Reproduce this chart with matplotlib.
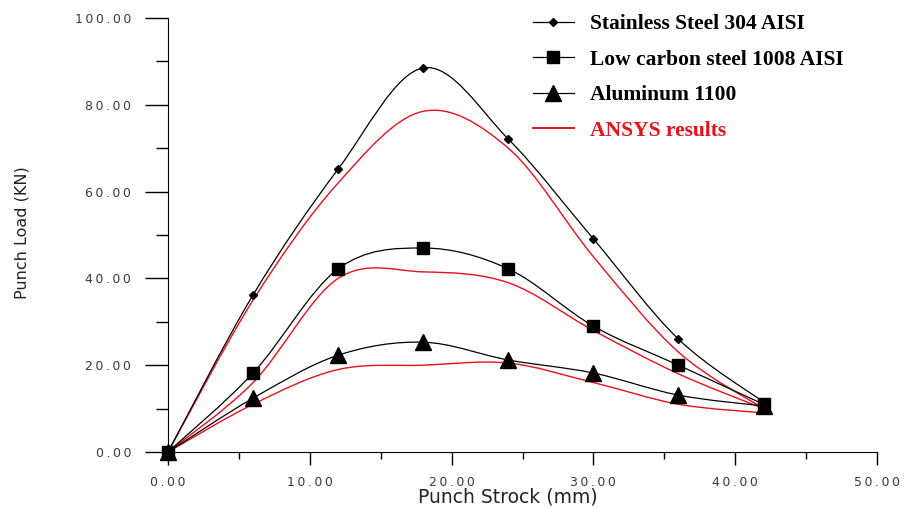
import matplotlib
matplotlib.use('Agg')
import matplotlib.pyplot as plt
import numpy as np
from matplotlib.path import Path
from matplotlib.patches import PathPatch
from matplotlib.lines import Line2D

stroke = [0, 6, 12, 18, 24, 30, 36, 42]

stainless = [0, 36.2, 65.2, 88.5, 72.1, 49.1, 26.0, 11.5]
low_carbon = [0, 18.2, 42.2, 47.0, 42.2, 29.0, 20.0, 11.0]
aluminum = [0, 12.4, 22.3, 25.3, 21.2, 18.2, 13.1, 10.6]

ansys_stainless = [0, 35.0, 62.0, 78.5, 70.0, 45.0, 23.0, 10.0]
ansys_low_carbon = [0, 16.0, 40.0, 41.5, 39.0, 28.0, 18.0, 10.0]
ansys_aluminum = [0, 11.0, 19.0, 20.0, 20.5, 16.0, 11.0, 9.0]

x_ticks = [0, 10, 20, 30, 40, 50]
y_ticks = [0, 20, 40, 60, 80, 100]

labels = ['Stainless Steel 304 AISI', 'Low carbon steel 1008 AISI',
          'Aluminum 1100', 'ANSYS results']

RED = '#e8101a'


def smooth_path(x, y, tension=0.5):
  # Catmull-Rom style cubic bezier through the points
  pts = np.column_stack([x, y]).astype(float)
  verts = [pts[0]]
  codes = [Path.MOVETO]
  n = len(pts)
  for i in range(n - 1):
    p0 = pts[i - 1] if i > 0 else pts[i]
    p1 = pts[i]
    p2 = pts[i + 1]
    p3 = pts[i + 2] if i + 2 < n else pts[i + 1]
    c1 = p1 + (p2 - p0) * tension / 3
    c2 = p2 - (p3 - p1) * tension / 3
    verts += [c1, c2, p2]
    codes += [Path.CURVE4] * 3
  return Path(verts, codes)


def draw_curve(ax, x, y, color, lw):
  ax.add_patch(PathPatch(smooth_path(x, y), facecolor='none', edgecolor=color, lw=lw))


def spaced(s):
  return '\u2009'.join(s)


fig = plt.figure(figsize=(9.08, 5.08), dpi=100)
ax = fig.add_axes([168 / 908, 1 - 452 / 508, (877 - 168) / 908, (452 - 18) / 508])

for ys in [ansys_stainless, ansys_low_carbon, ansys_aluminum]:
  draw_curve(ax, stroke, ys, RED, 1.0)
for ys in [stainless, low_carbon, aluminum]:
  draw_curve(ax, stroke, ys, 'black', 0.9)

ax.plot(stroke, stainless, ls='none', marker='D', ms=4.5, color='black', clip_on=False)
ax.plot(stroke, low_carbon, ls='none', marker='s', ms=8, color='black', clip_on=False)
ax.plot(stroke, aluminum, ls='none', marker='^', ms=11, color='black', clip_on=False)

ax.set_xlim(0, 50)
ax.set_ylim(0, 100)
ax.set_xticks(x_ticks)
ax.set_xticks(np.arange(5, 50, 10), minor=True)
ax.set_yticks(y_ticks)
ax.set_yticks(np.arange(10, 100, 20), minor=True)
ax.set_xticklabels([spaced(f'{v:.2f}') for v in x_ticks])
ax.set_yticklabels([spaced(f'{v:.2f}') for v in y_ticks])
ax.tick_params(axis='x', which='major', length=9.5, width=1, labelsize=9, pad=8,
               labelcolor='#3a3a3a')
ax.tick_params(axis='x', which='minor', length=5, width=1)
ax.tick_params(axis='y', which='major', length=16.5, width=1, labelsize=9, pad=10,
               labelcolor='#3a3a3a')
ax.tick_params(axis='y', which='minor', length=8.5, width=1)
ax.spines['top'].set_visible(False)
ax.spines['right'].set_visible(False)

ax.set_xlabel('Punch Strock (mm)', fontsize=13.5, color='#222222')
ax.xaxis.set_label_coords((508 - 168) / 709, (452 - 497) / 434)
ax.xaxis.label.set_va('center')
ax.set_ylabel('Punch Load (KN)', fontsize=11.5, color='#222222')
ax.yaxis.set_label_coords((22 - 168) / 709, (452 - 233) / 434)
ax.yaxis.label.set_va('center')

handles = [
  Line2D([], [], color='black', lw=0.9, marker='D', ms=4.5),
  Line2D([], [], color='black', lw=0.9, marker='s', ms=8),
  Line2D([], [], color='black', lw=0.9, marker='^', ms=11),
  Line2D([], [], color=RED, lw=1.4),
]
leg = ax.legend(handles, labels, loc='upper left', bbox_to_anchor=(533 / 908, 1 - 14 / 508),
                bbox_transform=fig.transFigure, frameon=False, borderpad=0,
                borderaxespad=0, handlelength=1.9, labelspacing=0.72, handletextpad=0.75,
                prop={'family': 'Liberation Serif', 'weight': 'bold', 'size': 15.5})
leg.get_texts()[3].set_color(RED)

fig.savefig('out.png', dpi=100)
